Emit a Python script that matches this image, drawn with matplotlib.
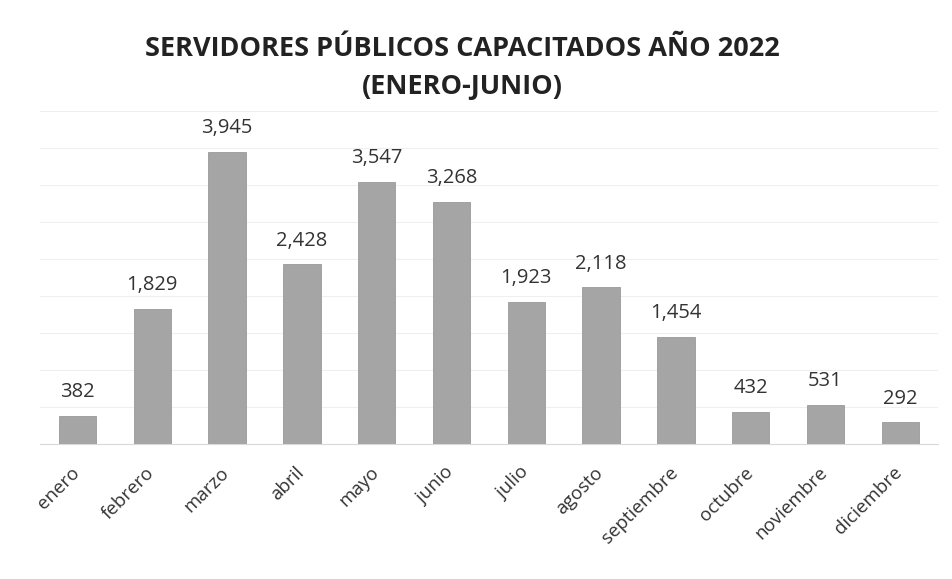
import matplotlib
matplotlib.use("Agg")
import matplotlib.pyplot as plt
from matplotlib.transforms import ScaledTranslation

# data
meses = ["enero", "febrero", "marzo", "abril", "mayo", "junio",
         "julio", "agosto", "septiembre", "octubre", "noviembre", "diciembre"]
capacitados = [382, 1829, 3945, 2428, 3547, 3268, 1923, 2118, 1454, 432, 531, 292]
titulo = "SERVIDORES PÚBLICOS CAPACITADOS AÑO 2022\n(ENERO-JUNIO)"

plt.rcParams["font.family"] = ["Open Sans", "DejaVu Sans"]

fig = plt.figure(figsize=(9.53, 5.79), dpi=100)
ax = fig.add_axes([0.042, 0.233, 0.942, 0.575])

x = range(len(meses))
bars = ax.bar(x, capacitados, width=0.5, color="#a5a5a5",
              edgecolor="#999999", linewidth=0.6, zorder=2)

for b, v in zip(bars, capacitados):
    ax.annotate(f"{v:,}", (b.get_x() + b.get_width() / 2, v),
                xytext=(0, 10), textcoords="offset points",
                ha="center", va="bottom", fontsize=14.5, color="#333333")

ax.set_ylim(0, 4500)
ax.set_xlim(-0.5, len(meses) - 0.5)
ax.set_yticks(range(0, 4501, 500))
ax.yaxis.grid(True, color="#efefef", linewidth=0.8, zorder=0)
ax.tick_params(axis="y", left=False, labelleft=False)
ax.tick_params(axis="x", length=0, pad=14)
ax.set_xticks(list(x))
ax.set_xticklabels(meses, rotation=45, ha="right", rotation_mode="anchor",
                   fontsize=13.5, color="#333333")
# nudge labels left so their upper end sits under the bar centre
shift = ScaledTranslation(-5 / 72, 0, fig.dpi_scale_trans)
for lbl in ax.get_xticklabels():
    lbl.set_transform(lbl.get_transform() + shift)
for s in ["left", "right", "top"]:
    ax.spines[s].set_visible(False)
ax.spines["bottom"].set_color("#d9d9d9")

fig.text(0.485, 0.882, titulo, ha="center", va="center", fontsize=19.5,
         fontweight="bold", color="#222222", linespacing=1.6)

fig.savefig("out.png", dpi=100, facecolor="white")
